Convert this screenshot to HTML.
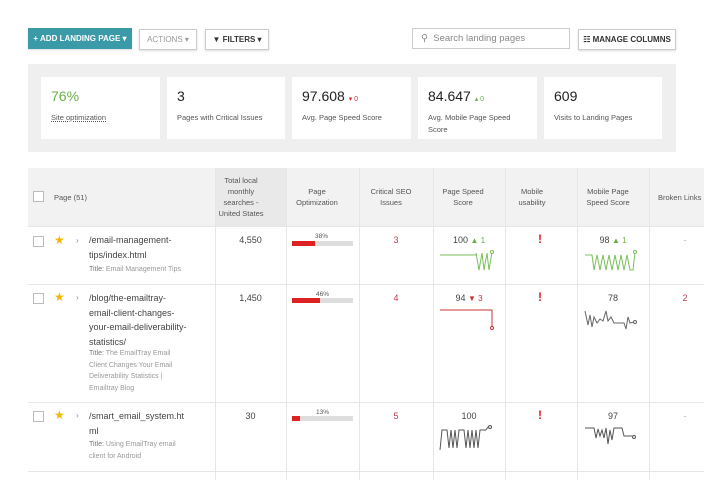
<!DOCTYPE html>
<html><head><meta charset="utf-8"><style>
*{box-sizing:border-box;margin:0;padding:0}
body{width:704px;height:480px;background:#fff;font-family:"Liberation Sans",sans-serif;position:relative;overflow:hidden;color:#333}
.a{position:absolute}
.btn{position:absolute;height:21px;border:1px solid #ccc;background:#fff;font-size:8px;font-weight:bold;display:flex;align-items:center;justify-content:center;box-shadow:0 1px 2px rgba(0,0,0,.15)}
.card{position:absolute;top:77px;height:62px;background:#fff;padding:11px 10px}
.card .v{font-size:14px;color:#222}
.card .l{font-size:7.5px;color:#555;margin-top:8px;line-height:12px}
.hd{position:absolute;top:168px;height:58px;font-size:7.5px;color:#555;text-align:center;display:flex;align-items:center;justify-content:center;line-height:11px}
.vl{position:absolute;top:168px;width:1px;height:312px;background:#e6e6e6}
.hl{position:absolute;left:28px;width:676px;height:1px;background:#e6e6e6}
.cb{position:absolute;width:11px;height:11px;border:1px solid #bbb;background:#fff}
.star{position:absolute;color:#f2b800;font-size:12px}
.chev{position:absolute;color:#888;font-size:8px}
.url{position:absolute;left:89px;font-size:9px;color:#444;line-height:14.5px;width:110px}
.ttl{position:absolute;left:89px;font-size:7px;color:#999;line-height:11.5px;width:100px}
.ttl b{color:#777;font-weight:normal}
.num{position:absolute;font-size:9px;color:#444;text-align:center}
.red{color:#c0394b}
.bar{position:absolute;left:292px;width:61px;height:5px;background:#ddd}
.bar i{display:block;height:5px;background:#d22}
.pct{position:absolute;font-size:6.5px;color:#555}
.ex{position:absolute;color:#d22;font-weight:bold;font-size:12px}
</style></head><body>
<div class="btn" style="left:28px;top:28px;width:104px;background:#3a9aa8;border-color:#3a9aa8;color:#fff">+ ADD LANDING PAGE ▾</div>
<div class="btn" style="left:139px;top:29px;width:58px;color:#999;font-weight:normal">ACTIONS ▾</div>
<div class="btn" style="left:205px;top:29px;width:64px;color:#333">▼ FILTERS ▾</div>
<div class="btn" style="left:412px;top:28px;width:158px;justify-content:flex-start;padding-left:8px;font-weight:normal;font-size:9.5px;color:#888;box-shadow:none">⚲&nbsp; Search landing pages</div>
<div class="btn" style="left:578px;top:29px;width:98px;color:#333">☷ MANAGE COLUMNS</div>

<div class="a" style="left:28px;top:64px;width:648px;height:88px;background:#efefef"></div>
<div class="card" style="left:41px;width:119px"><div class="v" style="color:#6aae4a">76%</div><div class="l" style="text-decoration:underline dotted">Site optimization</div></div>
<div class="card" style="left:167px;width:118px"><div class="v">3</div><div class="l">Pages with Critical Issues</div></div>
<div class="card" style="left:292px;width:119px"><div class="v">97.608 <span style="font-size:7px;color:#c33">▾ 0</span></div><div class="l">Avg. Page Speed Score</div></div>
<div class="card" style="left:418px;width:119px"><div class="v">84.647 <span style="font-size:7px;color:#6aae4a">▴ 0</span></div><div class="l">Avg. Mobile Page Speed Score</div></div>
<div class="card" style="left:544px;width:118px"><div class="v">609</div><div class="l">Visits to Landing Pages</div></div>

<div class="a" style="left:28px;top:168px;width:676px;height:58px;background:#f2f2f2"></div>
<div class="a" style="left:215px;top:168px;width:71px;height:58px;background:#e9e9e9"></div>
<div class="cb" style="left:33px;top:191px"></div>
<div class="hd" style="left:54px;width:40px;justify-content:flex-start">Page (51)</div>
<div class="hd" style="left:218px;width:46px">Total local monthly searches - United States</div>
<div class="hd" style="left:292px;width:50px">Page Optimization</div>
<div class="hd" style="left:366px;width:50px">Critical SEO Issues</div>
<div class="hd" style="left:438px;width:50px">Page Speed Score</div>
<div class="hd" style="left:512px;width:40px">Mobile usability</div>
<div class="hd" style="left:582px;width:52px">Mobile Page Speed Score</div>
<div class="hd" style="left:658px;width:50px;justify-content:flex-start">Broken Links</div>

<div class="vl" style="left:215px"></div><div class="vl" style="left:286px"></div><div class="vl" style="left:359px"></div><div class="vl" style="left:433px"></div><div class="vl" style="left:505px"></div><div class="vl" style="left:577px"></div><div class="vl" style="left:649px"></div>
<div class="hl" style="top:226px"></div><div class="hl" style="top:284px"></div><div class="hl" style="top:402px"></div><div class="hl" style="top:471px"></div>

<!-- row1 -->
<div class="cb" style="left:33px;top:236px"></div><div class="star" style="left:54px;top:233px">★</div><div class="chev" style="left:76px;top:236px">›</div>
<div class="url" style="top:233px">/email-management-<br>tips/index.html</div>
<div class="ttl" style="top:264px"><b>Title:</b> Email Management Tips</div>
<div class="num" style="left:215px;width:71px;top:235px">4,550</div>
<div class="pct" style="left:315px;top:233px">38%</div><div class="bar" style="top:241px"><i style="width:38%"></i></div>
<div class="num red" style="left:359px;width:74px;top:235px">3</div>
<div class="num" style="left:433px;width:72px;top:235px">100 <span style="color:#6aae4a;font-size:8px">▲ 1</span></div>
<svg class="a" style="left:438px;top:250px" width="56" height="24"><polyline fill="none" stroke="#7bbf5a" stroke-width="1" points="2,5 38,5 38,3 41,20 44,3 46,20 49,3 51,20 54,2"/><circle cx="54" cy="2" r="1.5" fill="#fff" stroke="#7bbf5a"/></svg>
<div class="ex" style="left:538px;top:232px">!</div>
<div class="num" style="left:577px;width:72px;top:235px">98 <span style="color:#6aae4a;font-size:8px">▲ 1</span></div>
<svg class="a" style="left:584px;top:250px" width="56" height="24"><polyline fill="none" stroke="#7bbf5a" stroke-width="1" points="1,5 8,5 10,20 13,5 16,20 19,5 22,20 25,5 28,20 31,5 34,20 37,5 40,20 43,5 46,20 49,20 51,2"/><circle cx="51" cy="2" r="1.5" fill="#fff" stroke="#7bbf5a"/></svg>
<div class="num" style="left:649px;width:72px;top:235px;color:#aaa">-</div>

<!-- row2 -->
<div class="cb" style="left:33px;top:293px"></div><div class="star" style="left:54px;top:290px">★</div><div class="chev" style="left:76px;top:293px">›</div>
<div class="url" style="top:291px">/blog/the-emailtray-<br>email-client-changes-<br>your-email-deliverability-<br>statistics/</div>
<div class="ttl" style="top:348px"><b>Title:</b> The EmailTray Email Client Changes Your Email Deliverability Statistics | Emailtray Blog</div>
<div class="num" style="left:215px;width:71px;top:293px">1,450</div>
<div class="pct" style="left:316px;top:291px">46%</div><div class="bar" style="top:298px"><i style="width:46%"></i></div>
<div class="num red" style="left:359px;width:74px;top:293px">4</div>
<div class="num" style="left:433px;width:72px;top:293px">94 <span style="color:#c33;font-size:8px">▼ 3</span></div>
<svg class="a" style="left:438px;top:307px" width="56" height="26"><polyline fill="none" stroke="#c33" stroke-width="1" points="2,3 54,3 54,21"/><circle cx="54" cy="21" r="1.5" fill="#fff" stroke="#c33"/></svg>
<div class="ex" style="left:538px;top:290px">!</div>
<div class="num" style="left:577px;width:72px;top:293px">78</div>
<svg class="a" style="left:584px;top:305px" width="56" height="26"><polyline fill="none" stroke="#666" stroke-width="1" points="1,6 4,20 6,10 8,22 10,12 13,18 16,14 19,16 22,6 24,16 27,12 30,18 33,18 40,18 42,24 44,12 46,18 50,17"/><circle cx="51" cy="17" r="1.5" fill="#fff" stroke="#666"/></svg>
<div class="num red" style="left:649px;width:72px;top:293px">2</div>

<!-- row3 -->
<div class="cb" style="left:33px;top:411px"></div><div class="star" style="left:54px;top:408px">★</div><div class="chev" style="left:76px;top:411px">›</div>
<div class="url" style="top:409px">/smart_email_system.ht<br>ml</div>
<div class="ttl" style="top:439px"><b>Title:</b> Using EmailTray email client for Android</div>
<div class="num" style="left:215px;width:71px;top:411px">30</div>
<div class="pct" style="left:316px;top:409px">13%</div><div class="bar" style="top:416px"><i style="width:13%"></i></div>
<div class="num red" style="left:359px;width:74px;top:411px">5</div>
<div class="num" style="left:433px;width:72px;top:411px">100</div>
<svg class="a" style="left:438px;top:424px" width="58" height="28"><polyline fill="none" stroke="#555" stroke-width="1" points="2,26 4,6 9,6 11,24 13,6 15,24 17,6 19,24 21,6 26,6 28,24 30,6 32,24 34,6 36,24 38,6 40,24 42,6 45,6 48,6 50,3"/><circle cx="52" cy="3" r="1.5" fill="#fff" stroke="#555"/></svg>
<div class="ex" style="left:538px;top:408px">!</div>
<div class="num" style="left:577px;width:72px;top:411px">97</div>
<svg class="a" style="left:584px;top:424px" width="56" height="28"><polyline fill="none" stroke="#555" stroke-width="1" points="1,4 10,4 12,14 14,5 16,12 18,6 20,14 22,4 24,20 26,6 28,16 30,4 38,4 40,12 44,12 48,12"/><circle cx="50" cy="13" r="1.5" fill="#fff" stroke="#555"/></svg>
<div class="num" style="left:649px;width:72px;top:411px;color:#aaa">-</div>
</body></html>
